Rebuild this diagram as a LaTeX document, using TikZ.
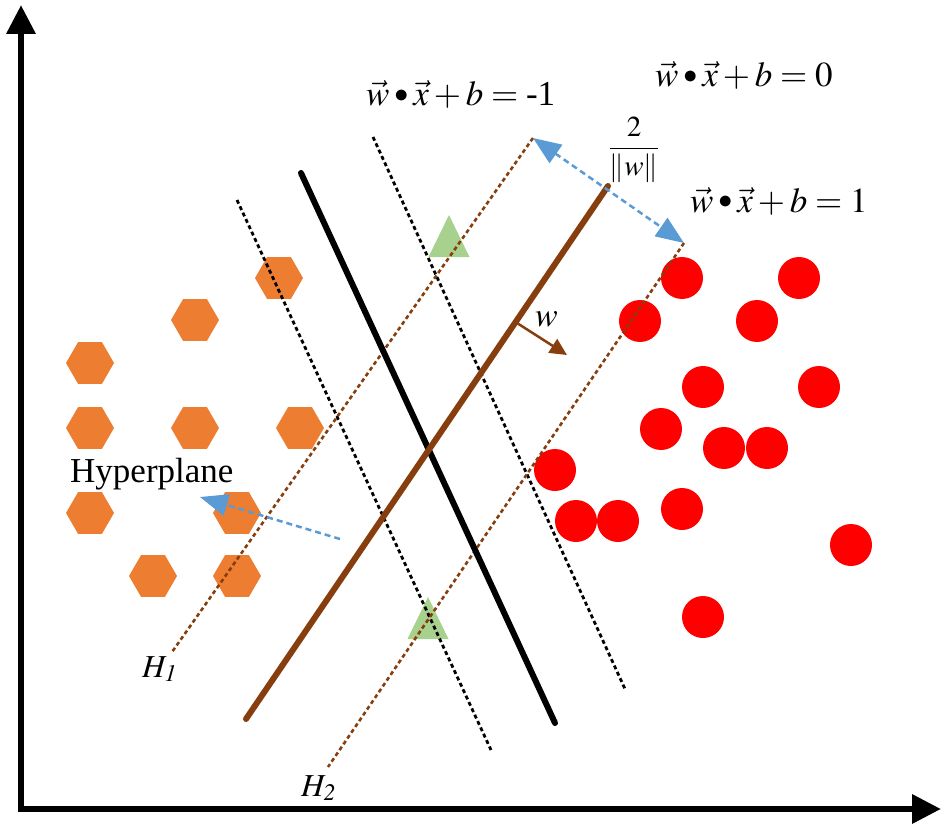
\documentclass[tikz,border=0pt]{standalone}
\usepackage{mathptmx}
\usepackage[no-math]{fontspec}
\setmainfont{Liberation Serif}
\usetikzlibrary{arrows.meta,shapes.geometric}
\definecolor{hexorange}{HTML}{ED7D31}
\definecolor{dotred}{HTML}{FF0000}
\definecolor{trigreen}{HTML}{A9D18E}
\definecolor{svmbrown}{RGB}{135,62,14}
\definecolor{arrowblue}{HTML}{5B9BD5}
\newcommand{\smalldot}{\mathbin{\raisebox{0.2ex}{\scalebox{0.8}{$\bullet$}}}}
\tikzset{
  hexa/.style={regular polygon, regular polygon sides=6, minimum size=48pt, inner sep=0pt, fill=hexorange, draw=none},
  reddot/.style={circle, minimum size=42pt, inner sep=0pt, fill=dotred, draw=none},
  axisline/.style={line width=6.5pt, line join=miter},
  thickblack/.style={line width=6pt, line cap=round},
  thickbrown/.style={line width=6pt, line cap=round, draw=svmbrown},
  blackdot/.style={line width=2.8pt, dash pattern=on 4pt off 3pt},
  browndot/.style={line width=2.6pt, draw=svmbrown, dash pattern=on 4pt off 3pt},
  bluedash/.style={line width=2.5pt, draw=arrowblue, dash pattern=on 6pt off 4pt},
  bluehead/.tip={Triangle[length=28pt,width=22pt]},
  eqtext/.style={inner sep=0pt, font=\fontsize{35}{40}\selectfont},
}
\begin{document}
\begin{tikzpicture}[x=1pt,y=-1pt]
\useasboundingbox (0,0) rectangle (943,832);
% axes
\coordinate (ytip) at (21,5);
\coordinate (orig) at (21,809);
\coordinate (xtip) at (941,809);
\draw[axisline, {Triangle[length=29pt,width=28pt]}-{Triangle[length=29pt,width=28pt]}] (ytip) -- (orig) -- (xtip);
% lines
\coordinate (bk1) at (301,173);
\coordinate (bk2) at (555,723);
\coordinate (ld1) at (237,200);
\coordinate (ld2) at (491,750);
\coordinate (rd1) at (373,137);
\coordinate (rd2) at (625,689);
\coordinate (br1) at (608,186);
\coordinate (br2) at (246,719);
\coordinate (h1a) at (533,138);
\coordinate (h1b) at (172,652);
\coordinate (h2a) at (684,243);
\coordinate (h2b) at (328,767);
% shapes
\foreach \n/\x/\y in {a/279/278, b/195/320, c/90/363, d/90/428, e/195/428, f/300/428, g/90/513, h/237/513, i/153/576, j/237/576}
  \node[hexa] (hex\n) at (\x,\y) {};
\foreach \n/\x/\y in {a/682/278, b/799/278, c/640/321, d/757/321, e/703/387, f/819/387, g/661/429, h/724/448, i/767/448, j/555/470, k/576/521, l/618/521, m/682/509, n/851/545, o/703/617}
  \node[reddot] (red\n) at (\x,\y) {};
\coordinate (tri1) at (449,236);
\coordinate (tri2) at (428,618);
\fill[trigreen] (tri1) ++(0,-21) -- ++(-20.5,42) -- ++(41,0) -- cycle;
\fill[trigreen] (tri2) ++(0,-21) -- ++(-20.5,42) -- ++(41,0) -- cycle;
% dotted margins
\draw[blackdot] (ld1) -- (ld2);
\draw[blackdot] (rd1) -- (rd2);
\draw[browndot] (h1a) -- (h1b);
\draw[browndot] (h2a) -- (h2b);
% main lines
\draw[thickblack] (bk1) -- (bk2);
\draw[thickbrown] (br1) -- (br2);
% w arrow
\coordinate (w0) at (517,323);
\coordinate (w1) at (567,355);
\draw[line width=2.5pt, draw=svmbrown, -{Triangle[length=17pt,width=16pt]}] (w0) -- (w1);
\node[inner sep=0pt, anchor=base west, font=\fontsize{34}{40}\selectfont] (wlab) at (535,326) {$w$};
% margin arrow
\draw[bluedash, bluehead-bluehead] (h1a) -- (h2a);
% hyperplane arrow
\coordinate (hpt) at (340,539);
\coordinate (hph) at (200,497);
\draw[bluedash, -bluehead] (hpt) -- (hph);
\node[inner sep=0pt, anchor=base west, font=\fontsize{35}{40}\selectfont] (hyp) at (70,482) {Hyperplane};
% labels
\node[eqtext, anchor=base west] (eqm) at (366,106) {$\vec{w}\smalldot\vec{x}+b=\mbox{-1}$};
\node[eqtext, anchor=base west] (eqz) at (655,87) {$\vec{w}\smalldot\vec{x}+b=0$};
\node[eqtext, anchor=base west] (eqp) at (690,212) {$\vec{w}\smalldot\vec{x}+b=1$};
\node[inner sep=0pt, font=\fontsize{29}{34}\selectfont] (frac) at (634,150) {$\displaystyle\frac{2}{\|w\|}$};
\node[inner sep=0pt, anchor=base west, font=\fontsize{32}{38}\selectfont] (lh1) at (142,677) {$H_{\mathit{1}}$};
\node[inner sep=0pt, anchor=base west, font=\fontsize{32}{38}\selectfont] (lh2) at (301,796) {$H_{\mathit{2}}$};
\end{tikzpicture}
\end{document}
